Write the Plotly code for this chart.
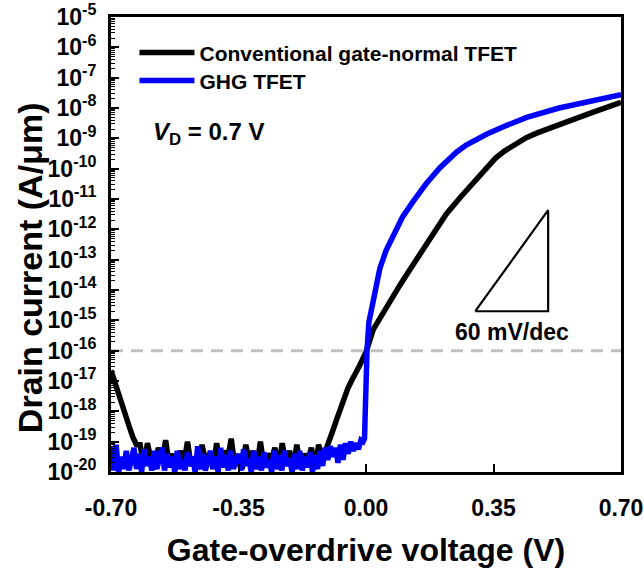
import plotly.graph_objects as go

FONT = "Liberation Sans, Arial, sans-serif"

# ---------------- data (log10 of drain current, A/um) ----------------
conv_head_x = [-0.70, -0.69, -0.68, -0.67, -0.66, -0.65, -0.64, -0.63]
conv_head_log = [-16.65, -17.05, -17.4, -17.8, -18.15, -18.5, -18.85, -19.1]

conv_noise_x = [-0.62, -0.61, -0.60, -0.59, -0.58, -0.57, -0.56, -0.55, -0.54, -0.53,
                -0.52, -0.51, -0.50, -0.49, -0.48, -0.47, -0.46, -0.45, -0.44, -0.43,
                -0.42, -0.41, -0.40, -0.39, -0.38, -0.37, -0.36, -0.35, -0.34, -0.33,
                -0.32, -0.31, -0.30, -0.29, -0.28, -0.27, -0.26, -0.25, -0.24, -0.23,
                -0.22, -0.21, -0.20, -0.19, -0.18, -0.17, -0.16, -0.15, -0.14, -0.13,
                -0.12, -0.11]
conv_noise_log = [-19.1, -19.8, -19.05, -19.6, -19.9, -19.2, -19.7, -18.95, -19.8, -19.4,
                  -19.9, -19.3, -19.7, -19.0, -19.8, -19.5, -19.9, -19.1, -19.7, -19.4,
                  -19.9, -19.05, -19.8, -19.3, -19.6, -18.9, -19.8, -19.5, -19.9, -19.1,
                  -19.7, -19.3, -19.9, -19.0, -19.8, -19.4, -19.6, -19.2, -19.9, -19.05,
                  -19.7, -19.3, -19.9, -19.1, -19.8, -19.4, -19.7, -19.2, -19.9, -19.1,
                  -19.6, -19.3]

conv_rise_x = [-0.10, -0.09, -0.08, -0.07, -0.06, -0.05, -0.04, -0.03, -0.02, -0.01,
               0.0, 0.02, 0.048, 0.07, 0.093, 0.115, 0.139, 0.162, 0.185, 0.22,
               0.258, 0.30, 0.33, 0.355, 0.38, 0.41, 0.44, 0.47, 0.50, 0.551, 0.62, 0.70]
conv_rise_log = [-19.0, -18.6, -18.25, -17.9, -17.55, -17.25, -17.0, -16.8, -16.55, -16.3,
                 -16.05, -15.3, -14.72, -14.25, -13.84, -13.43, -13.0, -12.55, -12.1, -11.5,
                 -10.96, -10.37, -9.97, -9.66, -9.42, -9.18, -8.98, -8.82, -8.68, -8.47, -8.15, -7.81]

ghg_noise_x = [-0.700, -0.693, -0.686, -0.679, -0.672, -0.665, -0.658, -0.651, -0.644, -0.637,
               -0.630, -0.623, -0.616, -0.609, -0.602, -0.595, -0.588, -0.581, -0.574, -0.567,
               -0.560, -0.553, -0.546, -0.539, -0.532, -0.525, -0.518, -0.511, -0.504, -0.497,
               -0.490, -0.483, -0.476, -0.469, -0.462, -0.455, -0.448, -0.441, -0.434, -0.427,
               -0.420, -0.413, -0.406, -0.399, -0.392, -0.385, -0.378, -0.371, -0.364, -0.357,
               -0.350, -0.343, -0.336, -0.329, -0.322, -0.315, -0.308, -0.301, -0.294, -0.287,
               -0.280, -0.273, -0.266, -0.259, -0.252, -0.245, -0.238, -0.231, -0.224, -0.217,
               -0.210, -0.203, -0.196, -0.189, -0.182, -0.175, -0.168, -0.161, -0.154, -0.147,
               -0.140, -0.133, -0.126, -0.119, -0.112, -0.105, -0.098, -0.091, -0.084, -0.077,
               -0.070, -0.063, -0.056, -0.049, -0.042, -0.035, -0.028, -0.021, -0.014, -0.008,
               -0.004]
ghg_noise_log = [-19.15, -19.95, -19.1, -20.0, -19.5, -19.9, -19.3, -19.95, -19.6, -19.2,
                 -19.9, -19.4, -20.0, -19.25, -19.8, -19.5, -19.95, -19.3, -19.9, -19.6,
                 -19.2, -19.95, -19.4, -19.85, -19.5, -20.0, -19.3, -19.9, -19.6, -19.95,
                 -19.35, -19.8, -19.5, -20.0, -19.15, -19.9, -19.4, -19.95, -19.6, -19.3,
                 -19.9, -19.5, -20.0, -19.2, -19.85, -19.45, -19.95, -19.3, -19.9, -19.6,
                 -19.4, -19.95, -19.25, -19.8, -19.55, -20.0, -19.3, -19.9, -19.5, -19.95,
                 -19.35, -19.85, -19.6, -20.0, -19.3, -19.9, -19.45, -19.95, -19.3, -19.8,
                 -19.55, -20.0, -19.4, -19.9, -19.3, -19.95, -19.5, -19.85, -19.35, -20.0,
                 -19.45, -19.9, -19.3, -19.8, -19.2, -19.6, -19.15, -19.5, -19.2, -19.7,
                 -19.1, -19.6, -19.05, -19.4, -19.0, -19.3, -19.05, -19.25, -18.95, -19.0,
                 -18.9]

ghg_rise_x = [-0.002, 0.0, 0.003, 0.008, 0.014, 0.020, 0.028, 0.038, 0.055, 0.075,
              0.10, 0.130, 0.165, 0.203, 0.225, 0.249, 0.275, 0.30, 0.332, 0.385,
              0.441, 0.53, 0.624, 0.70]
ghg_rise_log = [-18.0, -16.6, -15.95, -15.06, -14.7, -14.39, -13.85, -13.29, -12.7, -12.18,
                -11.6, -11.07, -10.5, -9.97, -9.7, -9.45, -9.22, -9.05, -8.86, -8.58,
                -8.31, -8.0, -7.75, -7.56]

ref_level = 1e-16          # grey dashed reference current
slope_tri_x = [0.30, 0.50, 0.50, 0.30]
slope_tri_log = [-14.7, -14.7, -11.37, -14.7]

y_tick_exps = list(range(-20, -4))
y_tick_labels = ["10<sup>%d</sup>" % e for e in y_tick_exps]
x_tick_vals = [-0.70, -0.35, 0.00, 0.35, 0.70]
x_tick_labels = ["-0.70", "-0.35", "0.00", "0.35", "0.70"]

# ---------------- build ----------------
conv_x = conv_head_x + conv_noise_x + conv_rise_x
conv_y = [10 ** v for v in conv_head_log + conv_noise_log + conv_rise_log]
ghg_x = ghg_noise_x + ghg_rise_x
ghg_y = [10 ** v for v in ghg_noise_log + ghg_rise_log]

fig = go.Figure()

fig.add_trace(go.Scatter(x=[-0.70, 0.70], y=[ref_level, ref_level], mode="lines",
                         line=dict(color="#c0c0c0", width=3, dash="12px,8px"),
                         showlegend=False, hoverinfo="skip"))
fig.add_trace(go.Scatter(x=slope_tri_x, y=[10 ** v for v in slope_tri_log], mode="lines",
                         line=dict(color="black", width=2.2), showlegend=False))
fig.add_trace(go.Scatter(x=conv_x, y=conv_y, mode="lines",
                         name="Conventional gate-normal TFET", legend="legend",
                         line=dict(color="black", width=5.5)))
fig.add_trace(go.Scatter(x=ghg_x, y=ghg_y, mode="lines", name="GHG TFET",
                         legend="legend2",
                         line=dict(color="#0000ff", width=5.5)))

minor_vals = [k * 10.0 ** e for e in range(-20, -5) for k in range(2, 10)]

fig.update_xaxes(range=[-0.70, 0.70], tickmode="array", tickvals=x_tick_vals,
                 ticktext=x_tick_labels, ticks="inside", ticklen=8, tickwidth=2,
                 tickcolor="black", showline=True, linecolor="black", linewidth=3,
                 mirror=True, showgrid=False, zeroline=False, automargin=False,
                 ticklabelstandoff=13, ticklabeloverflow="allow",
                 tickfont=dict(family=FONT, size=23, color="black", weight="bold"),
                 title=dict(text="<b>Gate-overdrive voltage (V)</b>",
                            font=dict(family=FONT, size=32, color="black"), standoff=20))
fig.update_yaxes(type="log", range=[-20, -5], tickmode="array",
                 tickvals=[10.0 ** e for e in y_tick_exps], ticktext=y_tick_labels,
                 ticks="inside", ticklen=8, tickwidth=2, tickcolor="black",
                 minor=dict(tickmode="array", tickvals=minor_vals, ticks="inside",
                            ticklen=4, tickwidth=1, tickcolor="black", showgrid=False),
                 showline=True, linecolor="black", linewidth=3, mirror=True,
                 showgrid=False, zeroline=False, automargin=False,
                 ticklabelstandoff=7, ticklabeloverflow="allow",
                 tickfont=dict(family=FONT, size=23, color="black", weight="bold"))

fig.add_annotation(x=-0.159, y=0.45, xref="paper", yref="paper", textangle=-90,
                   text="<b>Drain current (A/μm)</b>", showarrow=False,
                   xanchor="center", yanchor="middle",
                   font=dict(family=FONT, size=34, color="black"))
fig.add_annotation(x=0.40, y=-15.4, xref="x", yref="y", text="<b>60 mV/dec</b>",
                   showarrow=False, font=dict(family=FONT, size=23, color="black"))
fig.add_annotation(x=-0.591, y=-8.85, xref="x", yref="y", xanchor="left",
                   text="<b><i>V</i><sub>D</sub> = 0.7 V</b>",
                   showarrow=False, font=dict(family=FONT, size=24, color="black"))

legend_style = dict(xanchor="left", yanchor="top", itemwidth=55,
                    bgcolor="rgba(0,0,0,0)",
                    font=dict(family=FONT, size=21, color="black", weight="bold"))
fig.update_layout(
    width=644, height=570,
    margin=dict(l=111, r=23, t=17, b=98),
    paper_bgcolor="white", plot_bgcolor="white",
    legend=dict(x=0.046, y=0.966, **legend_style),
    legend2=dict(x=0.046, y=0.9045, **legend_style),
)

fig.write_html("out.html", config={"displayModeBar": False},
               post_script="document.body.style.margin='0';document.body.style.overflow='hidden';")
